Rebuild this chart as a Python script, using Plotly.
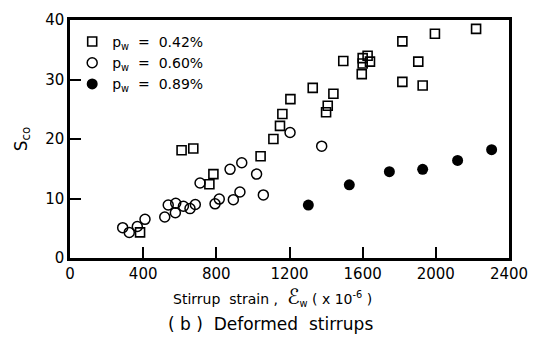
import plotly.graph_objects as go

# Stirrup strain (x 10^-6) and shear carried by concrete, S_co, per stirrup ratio
strain_042 = [383, 610, 674, 762, 784, 1042, 1112, 1148, 1161, 1205, 1327, 1400, 1409,
              1440, 1494, 1595, 1600, 1600, 1627, 1640, 1817, 1817, 1904, 1928, 1995, 2220]
sco_042 = [4.3, 18.1, 18.4, 12.4, 14.1, 17.1, 20.0, 22.2, 24.2, 26.7, 28.6, 24.5, 25.6,
           27.6, 33.1, 30.9, 33.6, 32.7, 34.0, 33.0, 36.4, 29.6, 33.0, 29.0, 37.7, 38.5]

strain_060 = [288, 324, 368, 410, 518, 537, 578, 576, 620, 656, 685, 711, 793, 816,
              875, 893, 929, 939, 1020, 1057, 1203, 1376]
sco_060 = [5.1, 4.3, 5.3, 6.5, 6.9, 8.9, 9.2, 7.6, 8.7, 8.3, 9.0, 12.6, 9.1, 9.9,
           14.9, 9.8, 11.1, 16.0, 14.1, 10.6, 21.1, 18.8]

strain_089 = [1303, 1527, 1746, 1928, 2119, 2305]
sco_089 = [8.9, 12.3, 14.5, 14.9, 16.4, 18.2]

x_ticks = [0, 400, 800, 1200, 1600, 2000, 2400]
y_ticks = [0, 10, 20, 30, 40]

FONT = "DejaVu Sans"
INK = "black"

fig = go.Figure()
fig.add_trace(go.Scatter(
    x=strain_042, y=sco_042, mode="markers", name="p<sub>w</sub>  =  0.42%",
    marker=dict(symbol="square-open", size=9, color=INK, line=dict(width=1.6, color=INK)),
))
fig.add_trace(go.Scatter(
    x=strain_060, y=sco_060, mode="markers", name="p<sub>w</sub>  =  0.60%",
    marker=dict(symbol="circle-open", size=10, color=INK, line=dict(width=1.5, color=INK)),
))
fig.add_trace(go.Scatter(
    x=strain_089, y=sco_089, mode="markers", name="p<sub>w</sub>  =  0.89%",
    marker=dict(symbol="circle", size=11, color=INK, line=dict(width=0)),
))

axis_common = dict(
    showgrid=False, zeroline=False, showline=True, linewidth=2.5, linecolor=INK,
    mirror=True, ticks="inside", ticklen=11, tickwidth=1.5, tickcolor=INK,
    tickfont=dict(family=FONT, size=15, color=INK),
)

fig.update_layout(
    width=545, height=343,
    margin=dict(l=70, r=36, t=11, b=85),
    paper_bgcolor="white", plot_bgcolor="white",
    showlegend=True,
    legend=dict(
        x=0.005, y=0.975, xanchor="left", yanchor="top",
        bgcolor="rgba(0,0,0,0)", borderwidth=0,
        font=dict(family=FONT, size=14, color=INK),
        tracegroupgap=0, itemsizing="trace",
    ),
    xaxis=dict(range=[0, 2400], tickvals=x_ticks, **axis_common),
    yaxis=dict(range=[0, 40], tickvals=y_ticks,
               title=dict(text="S<sub>co</sub>", font=dict(family=FONT, size=17, color=INK), standoff=14),
               **axis_common),
    annotations=[
        dict(text="Stirrup  strain ,  <span style='font-size:21px'>ℰ</span><sub>w</sub> ( x 10<sup>-6</sup> )",
             xref="paper", yref="paper", x=(272 - 70) / 439, y=(258 - 298) / 247,
             xanchor="center", yanchor="middle", showarrow=False,
             font=dict(family=FONT, size=14, color=INK)),
        dict(text="( b )  Deformed  stirrups",
             xref="paper", yref="paper", x=(270 - 70) / 439, y=(258 - 327) / 247,
             xanchor="center", yanchor="middle", showarrow=False,
             font=dict(family=FONT, size=17, color=INK)),
    ],
)

fig.write_html("out.html")
